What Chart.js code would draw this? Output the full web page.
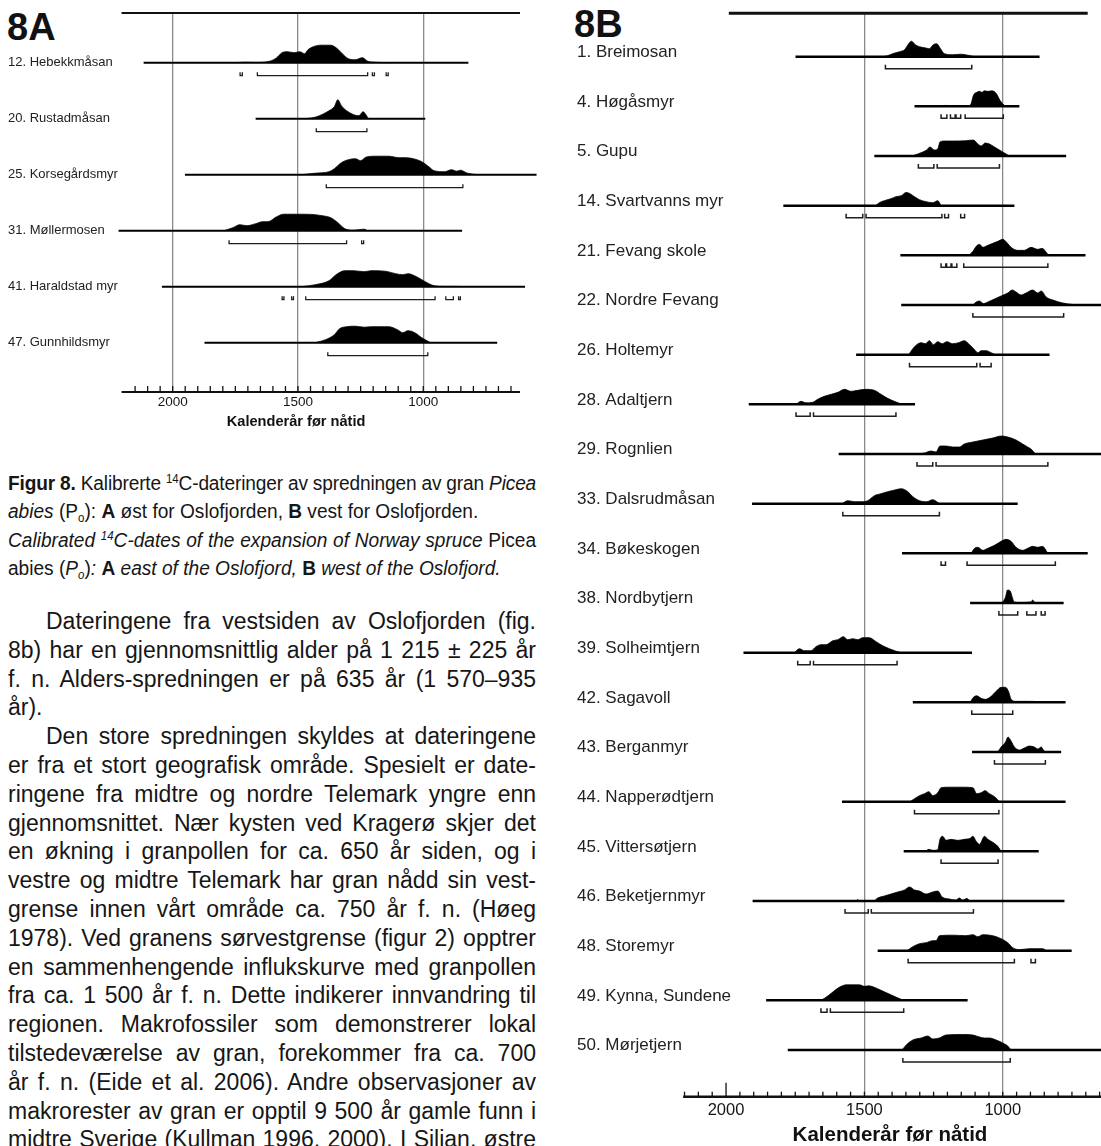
<!DOCTYPE html>
<html lang="no">
<head>
<meta charset="utf-8">
<title>Figur 8 – kalibrerte 14C-dateringer</title>
<script src="https://cdn.jsdelivr.net/npm/chart.js@4.4.1/dist/chart.umd.min.js"></script>
<style>
  html, body { margin: 0; padding: 0; background: #fff; overflow: hidden; }
  body { width: 1101px; height: 1146px; position: relative;
         font-family: "Liberation Sans", Arial, Helvetica, sans-serif; color: #161616; }
  canvas { position: absolute; top: 0; }
  #chartA { left: 0; }
  #chartB { left: 570px; }
  .panel { position: absolute; font-size: 38px; font-weight: bold; line-height: 38px; color: #111; }
  .cap { position: absolute; left: 8px; top: 469px; width: 553px; font-size: 20px; line-height: 28.3px;
         transform: scaleX(0.955); transform-origin: 0 0; }
  .txt { position: absolute; left: 8px; top: 607px; width: 528px; font-size: 23px; line-height: 28.8px; }
  .j { text-align: justify; text-align-last: justify; }
  .ind { text-indent: 38px; }
  .tight { word-spacing: -3px; letter-spacing: -0.15px; }
  .snug { word-spacing: -1px; }
  sup { font-size: 0.6em; vertical-align: 0.6em; line-height: 0; }
  sub { font-size: 0.6em; vertical-align: -0.3em; line-height: 0; }
</style>
</head>
<body>

<div class="panel" style="left:7px; top:8px;">8A</div>
<div class="panel" style="left:574px; top:5px;">8B</div>

<canvas id="chartA" width="560" height="440"></canvas>
<canvas id="chartB" width="531" height="1150"></canvas>

<div class="cap">
  <div class="j tight"><b>Figur 8.</b> Kalibrerte <sup>14</sup>C-dateringer av spredningen av gran <i>Picea</i></div>
  <div><i>abies</i> (P<sub>o</sub>): <b>A</b> øst for Oslofjorden, <b>B</b> vest for Oslofjorden.</div>
  <div class="j snug"><i>Calibrated <sup>14</sup>C-dates of the expansion of Norway spruce</i> Picea</div>
  <div>abies (<i>P<sub>o</sub></i>)<i>:</i> <b>A</b> <i>east of the Oslofjord,</i> <b>B</b> <i>west of the Oslofjord.</i></div>
</div>

<div class="txt">
  <div class="j ind">Dateringene fra vestsiden av Oslofjorden (fig.</div>
  <div class="j">8b) har en gjennomsnittlig alder på 1 215 ± 225 år</div>
  <div class="j">f. n. Alders-spredningen er på 635 år (1 570–935</div>
  <div>år).</div>
  <div class="j ind">Den store spredningen skyldes at dateringene</div>
  <div class="j">er fra et stort geografisk område. Spesielt er date-</div>
  <div class="j">ringene fra midtre og nordre Telemark yngre enn</div>
  <div class="j">gjennomsnittet. Nær kysten ved Kragerø skjer det</div>
  <div class="j">en økning i granpollen for ca. 650 år siden, og i</div>
  <div class="j">vestre og midtre Telemark har gran nådd sin vest-</div>
  <div class="j">grense innen vårt område ca. 750 år f. n. (Høeg</div>
  <div class="j">1978). Ved granens sørvestgrense (figur 2) opptrer</div>
  <div class="j">en sammenhengende influkskurve med granpollen</div>
  <div class="j">fra ca. 1 500 år f. n. Dette indikerer innvandring til</div>
  <div class="j">regionen. Makrofossiler som demonstrerer lokal</div>
  <div class="j">tilstedeværelse av gran, forekommer fra ca. 700</div>
  <div class="j">år f. n. (Eide et al. 2006). Andre observasjoner av</div>
  <div class="j">makrorester av gran er opptil 9 500 år gamle funn i</div>
  <div class="j">midtre Sverige (Kullman 1996, 2000). I Silian, østre</div>
</div>

<script>
// ==============================
// DATA (calendar years BP)
// ==============================
const yearTicks = [2000, 1500, 1000];
const axisTitle = "Kalenderår før nåtid";

// --- 8A: east of the Oslofjord ---
const sitesA = ["12. Hebekkmåsan", "20. Rustadmåsan", "25. Korsegårdsmyr",
                "31. Møllermosen", "41. Haraldstad myr", "47. Gunnhildsmyr"];

// full extent of the calibration line
const spanA = [[2116, 820], [1669, 992], [1951, 548], [2216, 845], [2043, 594], [1873, 705]];

// probability ranges shown under each curve
const bracketsA = [
  [[1731, 1722], [1662, 1222], [1203, 1195], [1148, 1140]],
  [[1427, 1225]],
  [[1387, 842]],
  [[1775, 1306], [1246, 1238]],
  [[1563, 1556], [1525, 1518], [1469, 953], [910, 880], [859, 852]],
  [[1381, 982]]
];

// probability curves: [year, relative probability]
const curvesA = [
  [[1753,0],[1711,0.5],[1669,0.3],[1613,1.5],[1585,5],[1564,10],[1543,11],[1515,10],[1494,11],[1473,9],
   [1460,13],[1439,16],[1411,17.5],[1369,17.5],[1348,15],[1327,10],[1299,4],[1271,3],[1243,5],[1222,1.5],
   [1194,0.5],[1124,0]],
  [[1473,0],[1431,1.5],[1397,5],[1376,8],[1355,12],[1341,19],[1327,13],[1306,8],[1278,4],[1257,3],
   [1240,7],[1229,4],[1219,0]],
  [[1487,0],[1431,1.5],[1376,3],[1355,6],[1327,12],[1299,15],[1271,16],[1250,14],[1229,17.5],[1194,18.5],
   [1138,18.5],[1096,17],[1068,17],[1040,16],[1006,13],[978,8],[957,4],[915,3],[887,5],[866,3.5],
   [852,4.5],[824,1.5],[782,0]],
  [[1795,0],[1760,3],[1732,6],[1704,5],[1669,7],[1641,9],[1620,9],[1585,14],[1557,16.5],[1501,16.5],
   [1446,16.3],[1404,15],[1369,13],[1341,8],[1313,2],[1278,0.5],[1236,1.5],[1222,0]],
  [[1487,0],[1431,2],[1376,6],[1348,12],[1313,16],[1278,16],[1236,15],[1208,16],[1152,15.5],[1110,13],
   [1082,12],[1061,13],[1027,10],[992,5],[957,1],[915,0.3],[859,0.3],[852,0]],
  [[1432,0],[1390,3],[1355,8],[1334,14],[1306,16],[1271,16.5],[1236,15.5],[1208,16],[1138,16],[1103,13],
   [1082,10],[1061,12],[1034,10],[1006,5],[971,0]]
];

// --- 8B: west of the Oslofjord ---
const sitesB = ["1. Breimosan", "4. Høgåsmyr", "5. Gupu", "14. Svartvanns myr", "21. Fevang skole",
                "22. Nordre Fevang", "26. Holtemyr", "28. Adaltjern", "29. Rognlien", "33. Dalsrudmåsan",
                "34. Bøkeskogen", "38. Nordbytjern", "39. Solheimtjern", "42. Sagavoll", "43. Berganmyr",
                "44. Napperødtjern", "45. Vittersøtjern", "46. Beketjernmyr", "48. Storemyr",
                "49. Kynna, Sundene", "50. Mørjetjern"];

const spanB = [[1749, 867], [1319, 940], [1464, 771], [1793, 958], [1370, 701], [1367, 645], [1530, 831],
               [1918, 1317], [1593, 645], [1906, 946], [1364, 693], [1118, 780], [1937, 1111], [1325, 773],
               [1111, 789], [1581, 773], [1358, 870], [1904, 777], [1452, 751], [1855, 1127], [1777, 645]];

const bracketsB = [
  [[1424, 1112]],
  [[1223, 1202], [1189, 1172], [1169, 1152], [1136, 998]],
  [[1305, 1249], [1237, 1012]],
  [[1566, 1506], [1494, 1220], [1210, 1196], [1152, 1138]],
  [[1223, 1206], [1203, 1187], [1184, 1166], [1141, 837]],
  [[1108, 780]],
  [[1337, 1094], [1082, 1042]],
  [[1747, 1696], [1684, 1386]],
  [[1310, 1253], [1241, 837]],
  [[1578, 1229]],
  [[1223, 1207], [1129, 810]],
  [[1014, 946], [913, 880], [861, 847]],
  [[1741, 1696], [1684, 1382]],
  [[1112, 964]],
  [[1030, 846]],
  [[1319, 1014]],
  [[1223, 1017]],
  [[1570, 1486], [1475, 1106]],
  [[1342, 958], [898, 882]],
  [[1657, 1635], [1623, 1358]],
  [[1361, 973]]
];

const curvesB = [
  [[1434,0],[1416,1],[1398,3],[1373,5],[1355,7],[1340,13],[1330,15.5],[1316,12],[1301,10],[1283,9],
   [1265,8],[1251,12],[1239,13],[1225,8],[1211,3],[1181,2],[1151,2.5],[1127,1.5],[1102,0]],
  [[1217,0],[1207,1],[1198,0],[1166,0],[1161,0.7],[1157,0],[1123,0],[1114,3],[1106,11],[1094,14],
   [1084,15],[1076,14],[1066,15.5],[1054,15],[1039,15.5],[1024,13],[1010,6],[994,1],[988,0]],
  [[1328,0],[1307,2],[1289,4],[1275,6],[1263,9],[1247,6],[1235,7],[1227,14],[1211,15],[1181,15],
   [1133,15.3],[1106,16],[1090,12],[1078,10],[1064,13],[1048,12],[1030,9],[1012,6],[994,3],[976,0]],
  [[1460,0],[1446,3],[1428,5],[1404,7],[1386,9],[1367,10],[1349,13.3],[1335,12],[1319,9],[1301,6],
   [1277,4],[1253,3],[1235,5],[1223,0]],
  [[1223,0],[1205,1],[1187,0],[1127,0],[1108,4],[1096,9],[1084,11],[1072,8],[1054,10],[1036,12],
   [1018,14],[1000,16],[986,13],[970,8],[946,5],[922,5],[898,8],[873,6],[857,7],[843,3],[834,0]],
  [[1108,0],[1096,3],[1084,4],[1070,1.5],[1054,3],[1030,6],[1006,9],[982,12],[966,15],[952,13],
   [934,10],[916,12],[892,15],[873,12],[861,14],[843,8],[819,5],[783,2],[747,0.5],[729,0]],
  [[1340,0],[1325,6],[1311,10],[1295,12],[1280,11],[1265,14],[1251,10],[1235,13],[1219,11],[1202,13],
   [1181,11],[1160,12],[1139,14],[1120,10],[1102,5],[1090,2],[1078,4],[1060,4],[1042,2],[1027,0]],
  [[1747,0],[1729,3],[1711,1.5],[1687,2],[1669,5],[1645,8],[1620,10],[1596,12],[1572,15],[1548,13],
   [1524,14],[1494,15],[1464,14],[1440,10],[1416,6],[1392,3],[1364,0]],
  [[1307,0],[1283,1],[1259,3],[1241,2],[1227,8],[1205,8],[1181,7],[1157,7],[1139,10],[1108,12],
   [1072,14],[1036,16],[1006,18],[982,17],[952,14],[928,10],[910,7],[898,5],[882,0]],
  [[1581,0],[1560,3],[1536,2],[1506,2],[1488,3],[1464,8],[1440,10],[1416,12],[1386,14],[1367,15],
   [1343,12],[1325,7],[1301,3],[1275,2],[1253,4],[1229,0]],
  [[1114,0],[1102,5],[1090,6],[1072,3],[1054,5],[1030,8],[1006,12],[988,14],[970,12],[952,6],
   [928,3],[910,5],[892,7],[873,6],[857,7],[837,0]],
  [[1002,0],[990,6],[983,13],[973,12],[966,6],[959,1],[940,0.5],[898,1],[892,3],[884,0.5],[857,0.5],[849,0]],
  [[1753,0],[1735,4],[1717,2],[1693,2],[1675,6],[1657,8],[1639,8],[1614,12],[1596,13],[1576,16],
   [1560,13],[1542,14],[1524,13],[1506,15],[1482,15],[1458,11],[1434,7],[1410,4],[1386,1.5],[1367,0]],
  [[1118,0],[1106,5],[1094,6.5],[1078,4],[1063,3],[1042,6],[1024,11],[1006,15],[990,15],[978,10],
   [970,3],[952,1],[916,1],[861,0.5],[853,0]],
  [[1018,0],[1006,5],[990,10],[981,15],[970,11],[958,5],[940,2],[922,4],[904,6],[886,5],
   [873,3],[861,5],[853,2],[846,0]],
  [[1335,0],[1319,3],[1301,6],[1283,8],[1267,10],[1253,6],[1235,9],[1223,14],[1193,14.5],[1145,14.5],
   [1108,14],[1094,8],[1078,9],[1064,11],[1048,8],[1030,5],[1012,0]],
  [[1280,0],[1267,2],[1253,1],[1235,1.5],[1227,12],[1217,15],[1205,11],[1187,12],[1163,11],[1139,12],
   [1118,13],[1108,15],[1096,10],[1084,7],[1066,15],[1054,12],[1036,9],[1018,5],[1006,0]],
  [[1530,0],[1524,1.5],[1518,0],[1467,0],[1452,3],[1428,5],[1404,7],[1380,9],[1355,11],[1337,14],
   [1319,11],[1301,10],[1277,7],[1253,9],[1235,10],[1219,4],[1193,2],[1169,1],[1157,3],[1145,1],
   [1130,2.5],[1118,0]],
  [[1346,0],[1325,4],[1301,7],[1277,8],[1253,10],[1241,10],[1229,15],[1181,15.5],[1133,15],[1108,16],
   [1090,14],[1072,16],[1036,15],[1006,12],[982,8],[964,3],[940,1],[904,2],[855,2],[843,0]],
  [[1669,0],[1651,1],[1639,3],[1620,7],[1602,11],[1584,14],[1566,15.5],[1518,15.5],[1500,14],[1484,14.5],
   [1464,13],[1440,10],[1416,7],[1392,4],[1367,1],[1355,0]],
  [[1364,0],[1349,5],[1325,10],[1295,12],[1271,14],[1253,11],[1229,12],[1205,15],[1145,15.5],[1108,15],
   [1084,13],[1066,12],[1048,12],[1024,10],[1000,7],[982,4],[970,0]]
];

// ==============================
// AXIS DECORATION (frame line, axis line, upward ticks)
// ==============================
const decor = {
  id: "decor",
  afterDatasetsDraw(chart, args, o) {
    const { ctx, chartArea: area, scales: { x } } = chart;
    ctx.save();
    ctx.strokeStyle = "#111";
    ctx.lineCap = "butt";

    ctx.lineWidth = o.topWidth;
    ctx.beginPath();
    ctx.moveTo(x.getPixelForValue(o.topLine[0]), area.top);
    ctx.lineTo(x.getPixelForValue(o.topLine[1]), area.top);
    ctx.stroke();

    ctx.lineWidth = o.axisWidth;
    ctx.beginPath();
    ctx.moveTo(x.getPixelForValue(o.axisLine[0]), area.bottom);
    ctx.lineTo(x.getPixelForValue(o.axisLine[1]), area.bottom);
    ctx.stroke();

    ctx.lineWidth = 1.3;
    for (let yr = o.tickFrom; yr >= o.tickTo; yr -= 50) {
      const px = x.getPixelForValue(yr);
      const len = o.longTicks.includes(yr) ? o.longLen : o.tickLen;
      ctx.beginPath();
      ctx.moveTo(px, area.bottom);
      ctx.lineTo(px, area.bottom - len);
      ctx.stroke();
    }
    ctx.restore();
  }
};

Chart.defaults.font.family = '"Liberation Sans", Arial, Helvetica, sans-serif';
Chart.defaults.color = "#161616";

// ==============================
// BUILD ONE PANEL
// ==============================
function makePanel(canvasId, sites, spans, brackets, curves, cfg) {
  const datasets = [];

  sites.forEach((name, k) => {
    // probability curve, filled down to the row's base line
    datasets.push({
      data: curves[k].map(([yr, p]) => ({ x: yr, y: k - p * cfg.amp })),
      fill: { value: k },
      backgroundColor: "#000",
      borderColor: "#000",
      borderWidth: 0.8,
      cubicInterpolationMode: "monotone",
      pointRadius: 0,
      clip: false
    });

    // calibration line
    datasets.push({
      data: spans[k].map(yr => ({ x: yr, y: k })),
      borderColor: "#000",
      borderWidth: cfg.baseWidth,
      pointRadius: 0,
      clip: false
    });

    // range brackets
    const pts = [];
    brackets[k].forEach(([a, b]) => {
      const yb = k + cfg.brDrop;
      const yt = yb - cfg.brHook;
      pts.push({ x: a, y: yt }, { x: a, y: yb }, { x: b, y: yb }, { x: b, y: yt }, { x: b, y: null });
    });
    datasets.push({
      data: pts,
      borderColor: "#1e1e1e",
      borderWidth: cfg.brWidth,
      pointRadius: 0,
      spanGaps: false,
      clip: false
    });
  });

  return new Chart(document.getElementById(canvasId), {
    type: "line",
    data: { datasets },
    options: {
      responsive: false,
      animation: false,
      events: [],
      devicePixelRatio: 1,
      layout: { padding: cfg.padding },
      plugins: {
        legend: { display: false },
        tooltip: { enabled: false },
        decor: cfg.decor
      },
      scales: {
        x: {
          type: "linear",
          reverse: true,
          min: cfg.xMin,
          max: cfg.xMax,
          afterBuildTicks: s => { s.ticks = yearTicks.map(v => ({ value: v })); },
          afterFit: s => { s.height = cfg.xAxisH; },
          grid: {
            drawTicks: false,
            lineWidth: 1.3,
            color: c => cfg.gridYears.includes(c.tick.value) ? "#8a8a8a" : "rgba(0,0,0,0)"
          },
          border: { display: false },
          ticks: {
            autoSkip: false,
            maxRotation: 0,
            padding: cfg.tickPad,
            color: "#161616",
            font: { size: cfg.tickSize },
            callback: v => String(v)
          },
          title: {
            display: true,
            text: axisTitle,
            color: "#111",
            font: { size: cfg.titleSize, weight: "bold" },
            padding: { top: 0, bottom: cfg.titlePadB }
          }
        },
        y: {
          type: "linear",
          reverse: true,
          min: cfg.yMin,
          max: cfg.yMax,
          afterBuildTicks: s => { s.ticks = sites.map((_, i) => ({ value: i })); },
          afterFit: s => { s.width = cfg.yAxisW; },
          grid: { display: false },
          border: { display: false },
          ticks: {
            autoSkip: false,
            // mirrored labels are not clipped to the axis box, so they may run
            // over the left part of the plot as they do in the printed figure
            mirror: true,
            crossAlign: "near",
            padding: -cfg.yAxisW,
            labelOffset: cfg.labelOff,
            color: "#222",
            font: { size: cfg.labelSize },
            callback: v => sites[v]
          }
        }
      }
    },
    plugins: [decor]
  });
}

// ==============================
// 8A
// ==============================
makePanel("chartA", sitesA, spanA, bracketsA, curvesA, {
  padding: { left: 8, top: 13, right: 84.1, bottom: 0 },
  yAxisW: 108.3, xAxisH: 48,
  xMin: 790, xMax: 2225,
  yMin: -0.8875, yMax: 5.8804,
  amp: 1 / 56, baseWidth: 2, brDrop: 13 / 56, brHook: 3.5 / 56, brWidth: 1.3,
  gridYears: [2000, 1500, 1000],
  tickSize: 13.5, tickPad: 2, titleSize: 14.6, titlePadB: 9.5,
  labelSize: 13, labelOff: 0,
  decor: { topLine: [2204, 614], axisLine: [2204, 614], topWidth: 2, axisWidth: 2,
           tickFrom: 2150, tickTo: 650, longTicks: [], tickLen: 6, longLen: 6 }
});

// ==============================
// 8B
// ==============================
makePanel("chartB", sitesB, spanB, bracketsB, curvesB, {
  padding: { left: 7, top: 13.3, right: 0, bottom: 0 },
  yAxisW: 102, xAxisH: 53.3,
  xMin: 645, xMax: 2170,
  yMin: -0.8738, yMax: 20.94,
  amp: 1 / 49.665, baseWidth: 2.5, brDrop: 12 / 49.665, brHook: 4 / 49.665, brWidth: 1.5,
  gridYears: [1500, 1000],
  tickSize: 16.5, tickPad: 3.4, titleSize: 20.5, titlePadB: 2.7,
  labelSize: 17, labelOff: -4.5,
  decor: { topLine: [1990, 693], axisLine: [2155, 600], topWidth: 3, axisWidth: 2.5,
           tickFrom: 2150, tickTo: 650, longTicks: [2000], tickLen: 5, longLen: 14 }
});
</script>
</body>
</html>
